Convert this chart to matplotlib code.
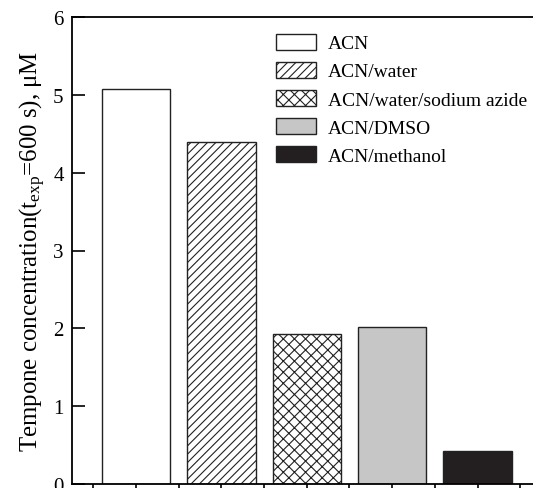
import matplotlib
matplotlib.use("Agg")
import matplotlib.pyplot as plt

plt.rcParams['font.family'] = ['Liberation Serif', 'DejaVu Serif']
plt.rcParams['mathtext.fontset'] = 'custom'
plt.rcParams['mathtext.rm'] = 'Liberation Serif'
plt.rcParams['mathtext.it'] = 'Liberation Serif:italic'
plt.rcParams['hatch.linewidth'] = 0.8

categories = ["ACN", "ACN/water", "ACN/water/sodium azide", "ACN/DMSO", "ACN/methanol"]
values = [5.08, 4.40, 1.93, 2.02, 0.42]
facecolors = ["white", "white", "white", "#c6c6c6", "#231f20"]
hatches = [None, "////", "xxx", None, None]
yticks = [0, 1, 2, 3, 4, 5, 6]

fig = plt.figure(figsize=(5.33, 4.89), dpi=100)
ax = fig.add_axes([72/533, 1-485/489, 1-72/533, (485-18)/489])

positions = list(range(1, len(categories)+1))
for p, v, fc, h, lab in zip(positions, values, facecolors, hatches, categories):
    ax.bar(p, v, width=0.8, color=fc, edgecolor="#222222", linewidth=1.0,
           hatch=h, label=lab)

ax.set_xlim(0.25, 5.65)
ax.set_ylim(0, 6)
ax.set_yticks(yticks)
ax.set_xticks([0.5 + 0.5*i for i in range(11)])
ax.set_xticklabels([])
ax.tick_params(axis='y', direction='in', length=9, width=1.2, labelsize=15, pad=6)
ax.tick_params(axis='x', direction='out', length=4, width=1.2)
ax.spines['right'].set_visible(False)
for s in ['left', 'top', 'bottom']:
    ax.spines[s].set_linewidth(1.3)

ax.set_ylabel(r"Tempone concentration(t$_{\mathrm{exp}}$=600 s), μM", fontsize=17.9, labelpad=4)

leg = ax.legend(loc='upper left', bbox_to_anchor=(276/533, 1-34.5/489),
                bbox_transform=fig.transFigure, frameon=False, fontsize=14,
                handlelength=2.07, handleheight=0.9, handletextpad=0.59,
                labelspacing=0.48, borderpad=0, borderaxespad=0)

fig.savefig("out.png", dpi=100)
